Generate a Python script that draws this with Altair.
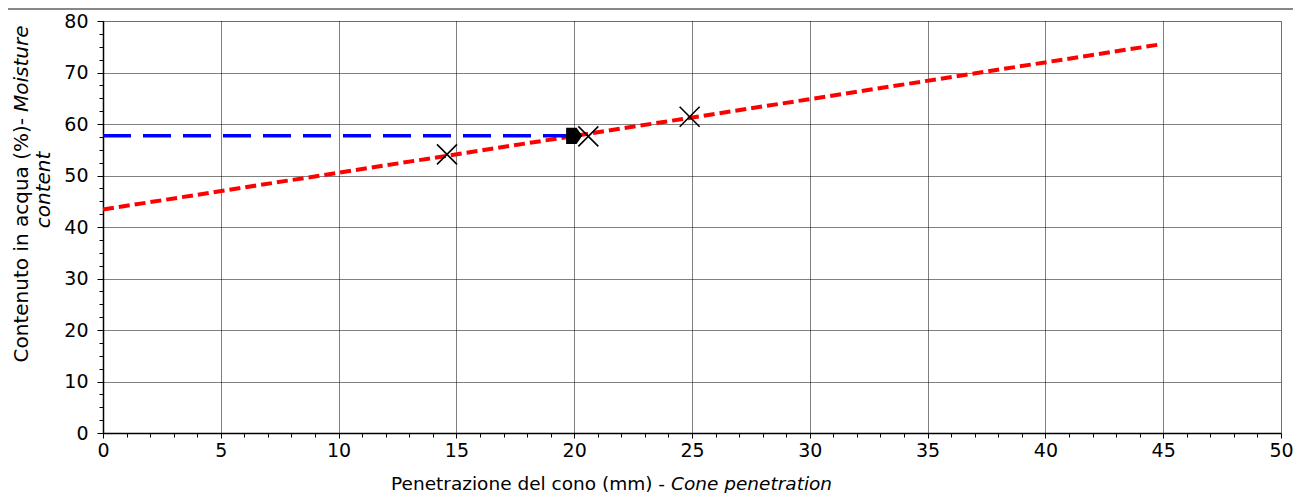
import altair as alt
import pandas as pd

# data
pts_x = [14.6, 20.6, 24.9]
pts_y = [54.1, 57.6, 61.4]
fit_x = [0.0, 44.8]
fit_y = [43.4, 75.4]
ll_x = [0.0, 20.0]
ll_y = [57.7, 57.7]
mark_x = [20.0]
mark_y = [57.7]

x_ticks = [i for i in range(0, 51)]            # minor every 1, labelled every 5
y_ticks = [i * 2.5 for i in range(0, 33)]      # minor every 2.5, labelled every 10

FONT = "DejaVu Sans"
FS = 19
W, H = 1178, 412

xs = alt.Scale(domain=[0, 50], nice=False, zero=False)
ys = alt.Scale(domain=[0, 80], nice=False, zero=False)

df_pts = pd.DataFrame({"x": pts_x, "y": pts_y})
df_fit = pd.DataFrame({"x": fit_x, "y": fit_y})
df_ll = pd.DataFrame({"x": ll_x, "y": ll_y})
df_mk = pd.DataFrame({"x": mark_x, "y": mark_y})

XMAJ = "datum.value % 5 === 0"
YMAJ = "datum.value % 10 === 0"

x_axis = alt.Axis(values=x_ticks, tickCount=200, grid=True, gridColor="#000", gridDash=[1, 1], gridWidth=1,
                  gridOpacity={"condition": {"test": XMAJ, "value": 1}, "value": 0},
                  tickSize={"condition": {"test": XMAJ, "value": 5}, "value": 4},
                  tickColor="#000", domainColor="#000", domainWidth=1.5,
                  labelExpr="datum.value % 5 === 0 ? format(datum.value, 'd') : ''",
                  labelFont=FONT, labelFontSize=FS, labelColor="#000", labelPadding=3,
                  labelFlush=False, labelOverlap=False, labelBound=False, title=None)
y_axis = alt.Axis(values=y_ticks, tickCount=200, grid=True, gridColor="#000", gridDash=[1, 1], gridWidth=1,
                  gridOpacity={"condition": {"test": YMAJ, "value": 1}, "value": 0},
                  tickSize={"condition": {"test": YMAJ, "value": 6}, "value": 4},
                  tickColor="#000", domainColor="#000", domainWidth=1.5,
                  labelExpr="datum.value % 10 === 0 ? format(datum.value, 'd') : ''",
                  labelFont=FONT, labelFontSize=FS, labelColor="#000", labelPadding=9,
                  labelFlush=False, labelOverlap=False, labelBound=False, title=None)

fit = alt.Chart(df_fit).mark_line(color="#ff0000", strokeWidth=4, strokeDash=[11, 5]).encode(
    x=alt.X("x:Q", scale=xs, axis=x_axis), y=alt.Y("y:Q", scale=ys, axis=y_axis))

ll = alt.Chart(df_ll).mark_line(color="#0000ff", strokeWidth=3.5, strokeDash=[28, 12]).encode(
    x=alt.X("x:Q", scale=xs), y=alt.Y("y:Q", scale=ys))

mk = alt.Chart(df_mk).mark_point(
    shape="M-1,-1L0.3,-1L1,0L0.3,1L-1,1Z", filled=True, color="#000", opacity=1, size=260
).encode(x=alt.X("x:Q", scale=xs), y=alt.Y("y:Q", scale=ys))

pts = alt.Chart(df_pts).mark_point(
    shape="M-1,-1L1,1M1,-1L-1,1", filled=False, color="#000", strokeWidth=1.6, opacity=1, size=400
).encode(x=alt.X("x:Q", scale=xs), y=alt.Y("y:Q", scale=ys))

# axis titles (mixed regular / italic)
one = pd.DataFrame({"a": [0]})
XFS = 18.5
YFS = 20
xt1 = alt.Chart(one).mark_text(text="Penetrazione del cono (mm) -", font=FONT, fontSize=XFS, align="right",
                               baseline="alphabetic", color="#000").encode(
    x=alt.value(562), y=alt.value(469))
xt2 = alt.Chart(one).mark_text(text="Cone penetration", font=FONT, fontSize=XFS, fontStyle="italic",
                               align="left", baseline="alphabetic", color="#000").encode(
    x=alt.value(568), y=alt.value(469))
yt1 = alt.Chart(one).mark_text(text="Contenuto in acqua (%)-", font=FONT, fontSize=YFS, angle=270,
                               align="right", baseline="alphabetic", color="#000").encode(
    x=alt.value(-75), y=alt.value(97))
yt2 = alt.Chart(one).mark_text(text="Moisture", font=FONT, fontSize=YFS, fontStyle="italic", angle=270,
                               align="left", baseline="alphabetic", color="#000").encode(
    x=alt.value(-75), y=alt.value(91))
yt3 = alt.Chart(one).mark_text(text="content", font=FONT, fontSize=YFS, fontStyle="italic", angle=270,
                               align="center", baseline="alphabetic", color="#000").encode(
    x=alt.value(-53), y=alt.value(169))

topline = alt.Chart(one).mark_rule(color="#888", strokeWidth=2).encode(
    x=alt.value(-95), x2=alt.value(W + 12), y=alt.value(-12))

chart = alt.layer(
    fit, ll, mk, pts, xt1, xt2, yt1, yt2, yt3, topline
).properties(
    width=W, height=H,
    autosize=alt.AutoSizeParams(type="none"),
    padding={"left": 95, "top": 13, "right": 12, "bottom": 60},
).configure_view(stroke="#999", strokeWidth=1.5).configure(background="white")

chart.save("out.html", embed_options={"renderer": "svg", "actions": False})
